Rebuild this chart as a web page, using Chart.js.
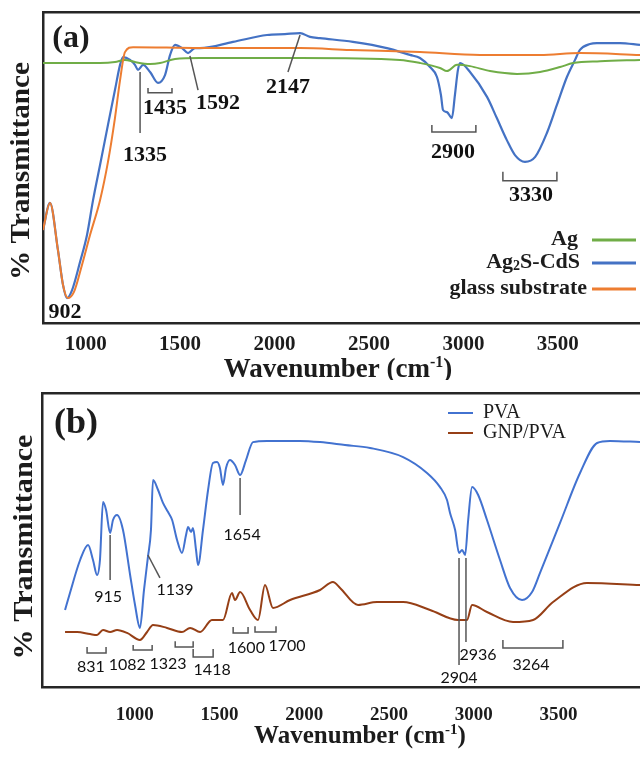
<!DOCTYPE html>
<html>
<head>
<meta charset="utf-8">
<script src="https://cdn.jsdelivr.net/npm/chart.js@4.4.1/dist/chart.umd.min.js"></script>
<style>
html,body{margin:0;padding:0;background:#fff;overflow:hidden}
.panel{position:relative;width:640px;height:380px}
</style>
</head>
<body>
<div class="panel"><canvas id="chartA"></canvas></div>
<div class="panel"><canvas id="chartB"></canvas></div>
<script>
// ---- panel (a) data, transmittance on an arbitrary 0-100 scale
const ticksA = [1000, 1500, 2000, 2500, 3000, 3500];

const agWn = [774, 1076, 1155, 1208, 1261, 1341, 1394, 1473, 1605, 2135, 2664, 2770, 2876, 2913, 2966, 3035, 3141, 3284, 3406, 3512, 3581, 3724, 3935];
const agT = [83.6, 83.6, 83.9, 84.6, 83.9, 83.3, 83.6, 84.9, 85.2, 85.2, 84.6, 83.6, 82.0, 81.0, 83.0, 82.6, 81.0, 80.1, 80.7, 82.3, 83.6, 84.2, 84.6];

const ag2sWn = [774, 811, 853, 880, 901, 928, 970, 1007, 1039, 1076, 1118, 1155, 1182, 1198, 1235, 1261, 1277, 1304, 1341, 1383, 1420, 1447, 1473, 1510, 1542, 1579, 1605, 1780, 1960, 2055, 2135, 2188, 2240, 2415, 2595, 2717, 2770, 2823, 2860, 2881, 2892, 2913, 2939, 2955, 2971, 2982, 3035, 3125, 3177, 3230, 3273, 3326, 3380, 3442, 3495, 3548, 3591, 3617, 3670, 3707, 3829, 3935];
const ag2sT = [29.9, 38.6, 23.5, 12.2, 8.0, 10.6, 19.6, 28.3, 39.5, 50.8, 63.7, 74.9, 83.0, 85.5, 84.6, 83.0, 81.4, 83.0, 80.7, 77.2, 79.7, 86.2, 89.4, 88.4, 86.8, 88.4, 88.4, 90.4, 92.6, 92.9, 93.2, 92.0, 91.6, 90.4, 88.4, 86.2, 85.2, 82.3, 79.1, 73.3, 68.5, 67.8, 65.9, 73.3, 81.4, 83.6, 80.7, 72.7, 65.9, 58.8, 54.0, 51.8, 53.4, 61.1, 70.1, 79.1, 84.6, 87.8, 89.7, 90.0, 90.0, 89.4];

const glassWn = [774, 811, 853, 880, 906, 938, 980, 1023, 1076, 1118, 1155, 1182, 1208, 1251, 1605, 2135, 2400, 2770, 3088, 3406, 3617, 3935];
const glassT = [29.9, 38.6, 23.5, 12.2, 8.0, 10.0, 18.6, 28.3, 39.5, 51.8, 65.9, 78.1, 87.1, 88.7, 88.4, 88.4, 87.8, 87.1, 86.2, 86.2, 86.8, 86.2];

// ---- panel (b) data
const ticksB = [1000, 1500, 2000, 2500, 3000, 3500];

const pvaWn = [588, 617, 677, 724, 753, 777, 794, 812, 830, 854, 871, 895, 930, 972, 1001, 1030, 1054, 1077, 1095, 1107, 1137, 1166, 1196, 1220, 1249, 1278, 1302, 1314, 1332, 1343, 1361, 1373, 1402, 1432, 1461, 1485, 1502, 1520, 1538, 1561, 1591, 1621, 1656, 1697, 1780, 1974, 2093, 2240, 2388, 2583, 2724, 2801, 2842, 2860, 2890, 2913, 2931, 2949, 2967, 2990, 3026, 3078, 3155, 3214, 3285, 3344, 3391, 3509, 3627, 3728, 3804, 3981];
const pvaT = [26.2, 32.0, 43.2, 48.3, 43.2, 38.1, 43.2, 62.9, 60.2, 52.4, 56.8, 58.5, 53.4, 38.1, 27.9, 20.1, 33.0, 44.2, 53.4, 70.4, 67.0, 62.6, 59.5, 56.8, 50.0, 45.6, 51.7, 54.4, 52.7, 54.1, 46.6, 41.5, 53.4, 67.0, 76.2, 76.5, 74.5, 68.7, 74.5, 77.2, 75.5, 72.1, 77.2, 83.3, 83.7, 83.7, 83.3, 82.3, 81.3, 78.2, 72.8, 68.0, 63.6, 59.2, 53.4, 45.6, 46.6, 44.9, 56.8, 68.0, 65.3, 56.8, 43.2, 33.7, 29.6, 32.3, 38.8, 55.8, 72.8, 83.0, 83.7, 83.3];

const gnpWn = [588, 659, 736, 777, 812, 854, 895, 954, 1030, 1072, 1107, 1190, 1278, 1326, 1385, 1455, 1520, 1573, 1591, 1621, 1680, 1727, 1768, 1815, 1916, 2093, 2169, 2211, 2317, 2429, 2583, 2742, 2907, 2960, 2990, 3078, 3232, 3350, 3468, 3668, 3981];
const gnpT = [18.7, 18.7, 18.0, 17.7, 19.4, 18.7, 19.4, 18.4, 16.0, 18.7, 21.1, 20.1, 18.7, 20.1, 18.7, 22.8, 22.8, 32.0, 29.6, 32.3, 26.2, 22.8, 34.7, 26.9, 29.6, 33.0, 35.7, 33.7, 27.9, 28.9, 28.9, 26.2, 22.8, 22.8, 27.9, 25.5, 22.1, 22.8, 28.9, 35.4, 34.7];

const zip = (xs, ys) => xs.map((v, i) => ({x: v, y: ys[i]}));

const SERIF = '"Liberation Serif", "Times New Roman", serif';
const INK = '#1c1c1c';
const FRAME = '#262626';

// peak notes, placed in data units
const notesA = [
  {text: '902', at: [890, 3.5]},
  {text: '1335', at: [1314, 54.0], line: [1288, 80.7, 1288, 61.1]},
  {text: '1435', at: [1420, 69.1], bracket: [1330, 1457, 74.0, 75.6]},
  {text: '1592', at: [1700, 70.7], line: [1552, 85.9, 1595, 74.9]},
  {text: '2147', at: [2071, 75.9], line: [2135, 92.6, 2071, 80.7]},
  {text: '2900', at: [2945, 55.0], bracket: [2833, 3066, 61.4, 63.7]},
  {text: '3330', at: [3358, 41.2], bracket: [3209, 3495, 45.7, 48.6]}
];

const notesB = [
  {text: '915', at: [842, 30.6], line: [854, 51.7, 854, 36.4]},
  {text: '1139', at: [1237, 33.0], line: [1077, 44.9, 1148, 37.1]},
  {text: '1654', at: [1633, 51.7], line: [1621, 71.1, 1621, 58.5]},
  {text: '831', at: [741, 6.8], bracket: [718, 830, 11.6, 13.6]},
  {text: '1082', at: [955, 7.5], bracket: [990, 1102, 12.6, 14.3]},
  {text: '1323', at: [1196, 7.8], bracket: [1238, 1344, 13.6, 15.6]},
  {text: '1418', at: [1456, 5.8], bracket: [1344, 1462, 10.2, 12.9]},
  {text: '1600', at: [1658, 13.3], bracket: [1580, 1668, 18.4, 20.4]},
  {text: '1700', at: [1898, 13.9], bracket: [1709, 1833, 18.7, 20.7]},
  {text: '2904', at: [2913, 3.1], line: [2913, 43.9, 2913, 7.5]},
  {text: '2936', at: [3025, 10.9], line: [2954, 43.9, 2954, 15.3]},
  {text: '3264', at: [3338, 7.5], bracket: [3172, 3526, 13.3, 16.0]}
];

function drawNotes(chart, notes, font){
  const {ctx} = chart;
  const x = chart.scales.x, y = chart.scales.y;
  ctx.save();
  ctx.strokeStyle = '#555';
  ctx.lineWidth = 1.5;
  notes.forEach(n => {
    if(n.line){
      ctx.beginPath();
      ctx.moveTo(x.getPixelForValue(n.line[0]), y.getPixelForValue(n.line[1]));
      ctx.lineTo(x.getPixelForValue(n.line[2]), y.getPixelForValue(n.line[3]));
      ctx.stroke();
    }
    if(n.bracket){
      const x1 = x.getPixelForValue(n.bracket[0]);
      const x2 = x.getPixelForValue(n.bracket[1]);
      const yb = y.getPixelForValue(n.bracket[2]);
      const ye = y.getPixelForValue(n.bracket[3]);
      ctx.beginPath();
      ctx.moveTo(x1, ye);
      ctx.lineTo(x1, yb);
      ctx.lineTo(x2, yb);
      ctx.lineTo(x2, ye);
      ctx.stroke();
    }
    ctx.fillStyle = '#111';
    ctx.font = font;
    ctx.textAlign = 'center';
    ctx.textBaseline = 'middle';
    ctx.fillText(n.text, x.getPixelForValue(n.at[0]), y.getPixelForValue(n.at[1]));
  });
  ctx.restore();
}

function drawXTitle(ctx, cx, base, size){
  const big = 'bold ' + size + 'px ' + SERIF;
  const small = 'bold ' + Math.round(size * 0.6) + 'px ' + SERIF;
  ctx.save();
  ctx.font = big;
  const w1 = ctx.measureText('Wavenumber (cm').width;
  const w3 = ctx.measureText(')').width;
  ctx.font = small;
  const w2 = ctx.measureText('-1').width;
  const x0 = cx - (w1 + w2 + w3) / 2;
  ctx.fillStyle = INK;
  ctx.textAlign = 'left';
  ctx.textBaseline = 'alphabetic';
  ctx.font = big;
  ctx.fillText('Wavenumber (cm', x0, base);
  ctx.font = small;
  ctx.fillText('-1', x0 + w1, base - size * 0.38);
  ctx.font = big;
  ctx.fillText(')', x0 + w1 + w2, base);
  ctx.restore();
}

function drawYTitle(ctx, cx, cy, len, size){
  ctx.save();
  ctx.translate(cx, cy);
  ctx.rotate(-Math.PI / 2);
  ctx.font = 'bold ' + size + 'px ' + SERIF;
  const w = ctx.measureText('% Transmittance').width;
  ctx.scale(len / w, 1);
  ctx.fillStyle = INK;
  ctx.textAlign = 'center';
  ctx.textBaseline = 'middle';
  ctx.fillText('% Transmittance', 0, 0);
  ctx.restore();
}

function drawPieces(ctx, pieces, right, y, size){
  const big = 'bold ' + size + 'px ' + SERIF;
  const small = 'bold ' + Math.round(size * 0.65) + 'px ' + SERIF;
  let total = 0;
  pieces.forEach(p => { ctx.font = p[1] ? small : big; total += ctx.measureText(p[0]).width; });
  let xx = right - total;
  ctx.textAlign = 'left';
  ctx.textBaseline = 'middle';
  pieces.forEach(p => {
    ctx.font = p[1] ? small : big;
    ctx.fillText(p[0], xx, p[1] ? y + size * 0.22 : y);
    xx += ctx.measureText(p[0]).width;
  });
}

const panelA = {
  id: 'panelA',
  afterDatasetsDraw(chart){
    const ctx = chart.ctx;
    drawNotes(chart, notesA, 'bold 22px ' + SERIF);
    ctx.save();
    ctx.fillStyle = INK;
    ctx.font = 'bold 32px ' + SERIF;
    ctx.textAlign = 'center';
    ctx.textBaseline = 'middle';
    ctx.fillText('(a)', 71, 39);
    // legend: text on the left, line on the right
    const rows = [
      {pieces: [['Ag', false]], right: 578, y: 239, color: '#70ad47'},
      {pieces: [['Ag', false], ['2', true], ['S-CdS', false]], right: 580, y: 262, color: '#4472c4'},
      {pieces: [['glass substrate', false]], right: 587, y: 288, color: '#ed7d31'}
    ];
    rows.forEach(r => {
      ctx.fillStyle = INK;
      drawPieces(ctx, r.pieces, r.right, r.y, 22);
      ctx.strokeStyle = r.color;
      ctx.lineWidth = 3;
      ctx.beginPath();
      ctx.moveTo(592, r.y + 1);
      ctx.lineTo(636, r.y + 1);
      ctx.stroke();
    });
    ctx.restore();
    drawXTitle(ctx, 338, 377, 27);
    drawYTitle(ctx, 22, 171, 218, 28);
  }
};

const panelB = {
  id: 'panelB',
  afterDatasetsDraw(chart){
    const ctx = chart.ctx;
    drawNotes(chart, notesB, '16px Lato');
    ctx.save();
    ctx.fillStyle = INK;
    ctx.font = 'bold 36px ' + SERIF;
    ctx.textAlign = 'center';
    ctx.textBaseline = 'middle';
    ctx.fillText('(b)', 76, 44);
    const rows = [
      {label: 'PVA', y: 33, color: '#4272d0'},
      {label: 'GNP/PVA', y: 53, color: '#963f16'}
    ];
    rows.forEach(r => {
      ctx.strokeStyle = r.color;
      ctx.lineWidth = 2;
      ctx.beginPath();
      ctx.moveTo(448, r.y);
      ctx.lineTo(473, r.y);
      ctx.stroke();
      ctx.fillStyle = INK;
      ctx.font = '20px ' + SERIF;
      ctx.textAlign = 'left';
      ctx.fillText(r.label, 483, r.y);
    });
    ctx.restore();
    drawXTitle(ctx, 360, 363, 25);
    drawYTitle(ctx, 25, 167, 225, 28);
  }
};

function scalesFor(min, max, ticks, axisHeight, tickSize, tickPad){
  return {
    x: {
      type: 'linear', position: 'bottom', min: min, max: max,
      afterBuildTicks(s){ s.ticks = ticks.map(v => ({value: v})); },
      afterFit(s){ s.height = axisHeight; },
      grid: {display: false, drawTicks: false},
      border: {display: true, width: 2.5, color: FRAME},
      ticks: {
        autoSkip: false, maxRotation: 0, padding: tickPad, color: INK,
        font: {family: SERIF, weight: 'bold', size: tickSize},
        callback: v => String(v)
      }
    },
    top: {
      type: 'linear', position: 'top', display: true,
      afterFit(s){ s.height = 0; },
      grid: {display: false, drawTicks: false},
      border: {display: true, width: 2.5, color: FRAME},
      ticks: {display: false}
    },
    y: {
      type: 'linear', min: 0, max: 100,
      afterFit(s){ s.width = 0; },
      grid: {display: false, drawTicks: false},
      border: {display: true, width: 2.5, color: FRAME},
      ticks: {display: false}
    }
  };
}

const common = {
  animation: false,
  responsive: true,
  maintainAspectRatio: false,
  plugins: {legend: {display: false}, tooltip: {enabled: false}},
  elements: {point: {radius: 0}, line: {cubicInterpolationMode: 'monotone'}}
};

new Chart(document.getElementById('chartA'), {
  type: 'line',
  data: {
    datasets: [
      {label: 'glass substrate', data: zip(glassWn, glassT), borderColor: '#ed7d31', borderWidth: 2},
      {label: 'Ag', data: zip(agWn, agT), borderColor: '#70ad47', borderWidth: 2},
      {label: 'Ag2S-CdS', data: zip(ag2sWn, ag2sT), borderColor: '#4472c4', borderWidth: 2.2}
    ]
  },
  options: Object.assign({}, common, {
    layout: {padding: {top: 12, left: 43, right: 0, bottom: 0}},
    scales: scalesFor(774, 3935, ticksA, 57, 21, 9)
  }),
  plugins: [panelA]
});

new Chart(document.getElementById('chartB'), {
  type: 'line',
  data: {
    datasets: [
      {label: 'GNP/PVA', data: zip(gnpWn, gnpT), borderColor: '#963f16', borderWidth: 2},
      {label: 'PVA', data: zip(pvaWn, pvaT), borderColor: '#4272d0', borderWidth: 2}
    ]
  },
  options: Object.assign({}, common, {
    layout: {padding: {top: 13, left: 42, right: 0, bottom: 0}},
    scales: scalesFor(452, 3981, ticksB, 73, 19, 17)
  }),
  plugins: [panelB]
});
</script>
</body>
</html>
